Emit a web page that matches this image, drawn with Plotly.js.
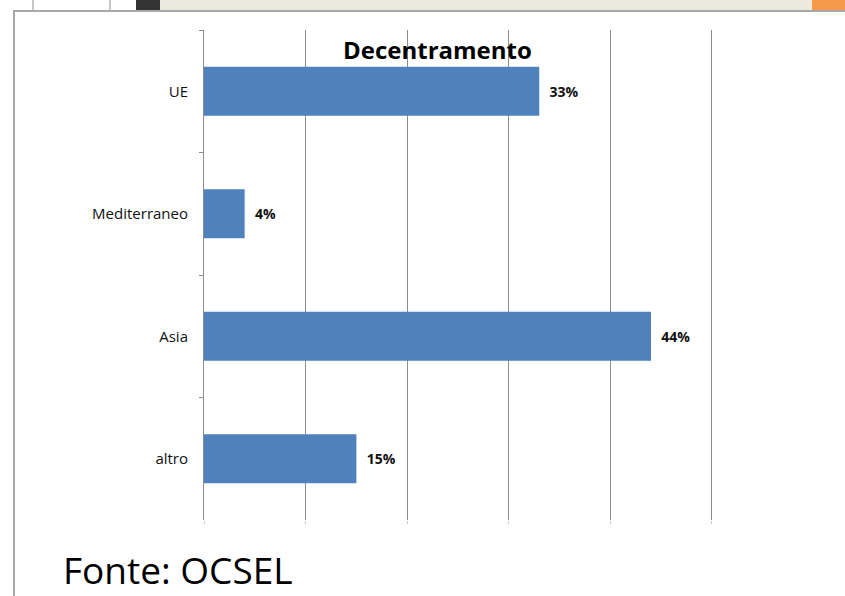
<!DOCTYPE html>
<html>
<head>
<meta charset="utf-8">
<script src="https://cdn.plot.ly/plotly-3.0.1.min.js"></script>
<style>
  html, body { margin: 0; padding: 0; background: #ffffff; }
  #wrap { position: relative; width: 845px; height: 596px; overflow: hidden; background: #ffffff; }
  .deco { position: absolute; }
  #chart { position: absolute; left: 0; top: 0; width: 845px; height: 596px; }
</style>
</head>
<body>
<div id="wrap">
  <!-- window strip at top -->
  <div class="deco" style="left:0;top:0;width:845px;height:10px;background:#ffffff;"></div>
  <div class="deco" style="left:32px;top:0;width:2px;height:10px;background:#c8c8c8;"></div>
  <div class="deco" style="left:109px;top:0;width:2px;height:10px;background:#c8c8c8;"></div>
  <div class="deco" style="left:136px;top:0;width:24px;height:10px;background:#333333;"></div>
  <div class="deco" style="left:160px;top:0;width:652px;height:10px;background:#ece9df;"></div>
  <div class="deco" style="left:812px;top:0;width:33px;height:10px;background:#f59a4a;"></div>
  <div class="deco" style="left:13px;top:10px;width:832px;height:2px;background:#a8a8a8;"></div>
  <div class="deco" style="left:13px;top:10px;width:2px;height:586px;background:#a8a8a8;"></div>
  <div id="chart"></div>
</div>
<script>
var categories = ["UE", "Mediterraneo", "Asia", "altro"];
var values = [33, 4, 44, 15];
var labels = ["33%", "4%", "44%", "15%"];
var xTicks = [0, 10, 20, 30, 40, 50];
var chartTitle = "Decentramento";
var sourceNote = "Fonte: OCSEL";

var trace = {
  type: "bar",
  orientation: "h",
  y: categories,
  x: values,
  width: 0.4,
  marker: { color: "#4f81bd", line: { width: 0 } },
  text: labels.map(function (t) { return "\u00a0\u00a0" + t; }),
  textposition: "outside",
  cliponaxis: false,
  textfont: { family: "Open Sans", size: 14, color: "#111111", weight: "bold" },
  hoverinfo: "none"
};

var layout = {
  width: 845,
  height: 596,
  margin: { l: 204, r: 131, t: 30, b: 76 },
  paper_bgcolor: "rgba(0,0,0,0)",
  plot_bgcolor: "rgba(0,0,0,0)",
  showlegend: false,
  bargap: 0.6,
  xaxis: {
    range: [0, 50.2],
    tickvals: xTicks,
    showticklabels: false,
    showgrid: true,
    gridcolor: "#8c8c8c",
    gridwidth: 1,
    zeroline: false,
    showline: false,
    ticks: "outside",
    ticklen: 3,
    tickcolor: "#c8c8c8",
    fixedrange: true
  },
  yaxis: {
    type: "category",
    autorange: "reversed",
    showline: true,
    linecolor: "#8c8c8c",
    linewidth: 1,
    showgrid: false,
    zeroline: false,
    ticks: "outside",
    tickson: "boundaries",
    ticklen: 4,
    tickcolor: "#8c8c8c",
    ticklabelstandoff: 12,
    tickfont: { family: "Open Sans", size: 15, color: "#111111" },
    fixedrange: true
  },
  annotations: [
    {
      text: chartTitle,
      xref: "paper", yref: "paper",
      x: 0.457, y: 0.961,
      xanchor: "center", yanchor: "middle",
      showarrow: false,
      font: { family: "Open Sans", size: 24, color: "#000000", weight: "bold" }
    },
    {
      text: sourceNote,
      xref: "paper", yref: "paper",
      x: -0.28, y: -0.102,
      xanchor: "left", yanchor: "middle",
      showarrow: false,
      font: { family: "Open Sans", size: 37, color: "#000000" }
    }
  ]
};

Plotly.newPlot("chart", [trace], layout, { displayModeBar: false, staticPlot: true });
</script>
</body>
</html>
